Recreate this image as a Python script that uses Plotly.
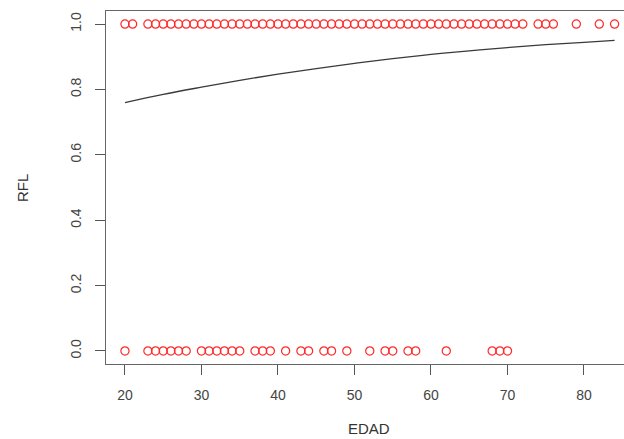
import plotly.graph_objects as go

# ages with RFL = 1 (top row)
ages_rfl1 = [20, 21] + list(range(23, 73)) + [74, 75, 76, 79, 82, 84]
# ages with RFL = 0 (bottom row)
ages_rfl0 = [20, 23, 24, 25, 26, 27, 28, 30, 31, 32, 33, 34, 35, 37, 38, 39,
             41, 43, 44, 46, 47, 49, 52, 54, 55, 57, 58, 62, 68, 69, 70]

# fitted curve
curve_age = [20, 25, 30, 35, 40, 45, 50, 55, 60, 65, 70, 75, 80, 84]
curve_p = [0.760, 0.785, 0.807, 0.828, 0.847, 0.864, 0.880, 0.894, 0.907,
           0.918, 0.928, 0.937, 0.944, 0.950]

x_ticks = [20, 30, 40, 50, 60, 70, 80]
y_ticks = [0.0, 0.2, 0.4, 0.6, 0.8, 1.0]
y_ticklabels = ["0.0", "0.2", "0.4", "0.6", "0.8", "1.0"]

W, H = 624, 439
ML, MR, MT, MB = 106, 0, 11, 75

marker = dict(symbol="circle-open", size=8.2, color="#ff2a2a", line=dict(width=1.2))

fig = go.Figure()
fig.add_trace(go.Scatter(x=ages_rfl1, y=[1] * len(ages_rfl1), mode="markers",
                         marker=marker, showlegend=False, cliponaxis=False))
fig.add_trace(go.Scatter(x=ages_rfl0, y=[0] * len(ages_rfl0), mode="markers",
                         marker=marker, showlegend=False, cliponaxis=False))
fig.add_trace(go.Scatter(x=curve_age, y=curve_p, mode="lines",
                         line=dict(color="#3a3a3a", width=1.3, shape="spline"),
                         showlegend=False))

tickfont = dict(family="Liberation Sans, Arial, sans-serif", size=14, color="#444444")

pw, ph = W - ML - MR, H - MT - MB


def px_to_paper(px, py):
    return (px - ML) / pw, (H - py - MB) / ph


ex, ey = px_to_paper(369, 428)
rx, ry = px_to_paper(22, 188)

fig.update_layout(
    width=W, height=H,
    margin=dict(l=ML, r=MR, t=MT, b=MB),
    paper_bgcolor="white", plot_bgcolor="white",
    font=dict(family="Liberation Sans, Arial, sans-serif", color="#444444"),
    xaxis=dict(range=[17.52, 85.23], tickvals=x_ticks, ticks="outside", ticklen=10,
               tickcolor="#555555", tickwidth=1, showgrid=False, zeroline=False,
               showline=True, linecolor="#666666", linewidth=1, mirror=True,
               tickfont=tickfont, ticklabelstandoff=8),
    yaxis=dict(range=[-0.04, 1.04], tickvals=y_ticks, ticktext=y_ticklabels,
               ticks="outside", ticklen=10, tickcolor="#555555", tickwidth=1,
               showgrid=False, zeroline=False, showline=True, linecolor="#666666",
               linewidth=1, mirror=False, tickangle=-90, tickfont=tickfont,
               ticklabelstandoff=8),
    annotations=[
        dict(text="EDAD", x=ex, y=ey, xref="paper", yref="paper",
             xanchor="center", yanchor="middle", showarrow=False,
             font=dict(size=15, color="#333333")),
        dict(text="RFL", x=rx, y=ry, xref="paper", yref="paper", textangle=-90,
             xanchor="center", yanchor="middle", showarrow=False,
             font=dict(size=15, color="#333333")),
    ],
)

fig.write_html("out.html", config={"displayModeBar": False},
               post_script="document.body.style.margin='0';document.body.style.overflow='hidden';")
